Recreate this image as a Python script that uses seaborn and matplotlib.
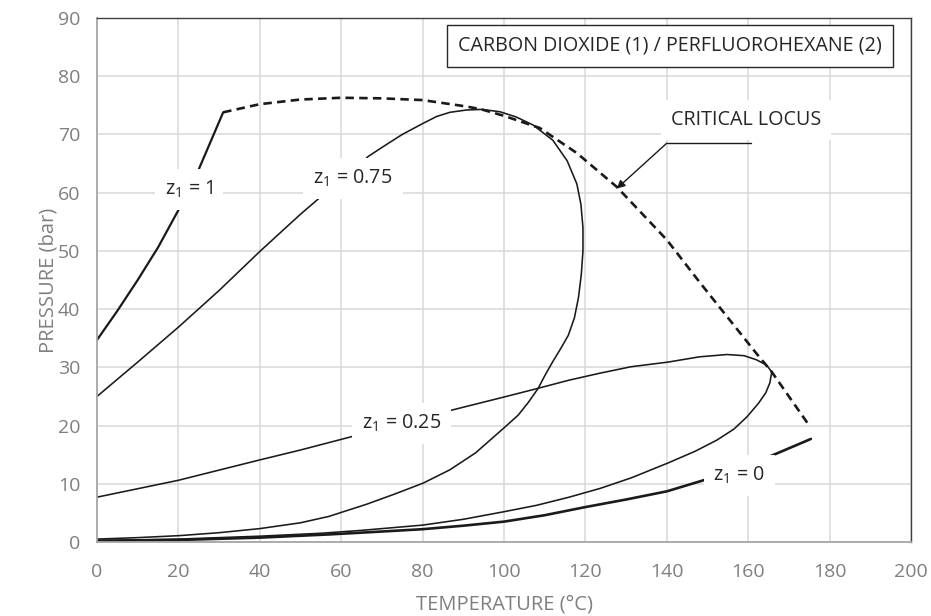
import matplotlib
matplotlib.use("Agg")
import matplotlib.pyplot as plt
from matplotlib.ticker import MultipleLocator
import numpy as np
import pandas as pd
import seaborn as sns

# z1 = 1 (pure CO2 vapour pressure)
co2_T = [0, 5, 10, 15, 20, 25, 31]
co2_P = [34.7, 39.7, 45.0, 50.6, 57.0, 64.0, 73.8]

# z1 = 0 (pure perfluorohexane)
pfh_T = [0, 20, 40, 57, 70, 80, 90, 100, 110, 120, 130, 140, 149, 160, 166, 175.4]
pfh_P = [0.2, 0.35, 0.75, 1.3, 1.8, 2.2, 2.8, 3.5, 4.6, 6.0, 7.3, 8.7, 10.6, 13.2, 14.9, 17.7]

# z1 = 0.25 phase envelope (bubble branch then dew branch)
z25_T = [0, 20, 40, 50, 62.6, 75, 88, 100, 108.4, 116, 123.6, 131.2, 140.3, 148, 154.8,
         159, 162, 164.5, 165.8, 165.3, 164.3, 162.5, 159.7, 156.5, 152.3, 147, 140.4,
         131.2, 123.6, 116, 108, 100, 90, 80, 65, 55, 40, 20, 0]
z25_P = [7.7, 10.6, 14.1, 15.8, 18.1, 20.5, 22.8, 24.9, 26.4, 27.8, 29.0, 30.1, 30.9, 31.8, 32.2,
         32.0, 31.3, 30.4, 29.2, 27.3, 25.6, 23.8, 21.5, 19.4, 17.5, 15.6, 13.6,
         11.0, 9.2, 7.7, 6.3, 5.2, 3.9, 2.9, 2.0, 1.5, 1.0, 0.5, 0.25]

# z1 = 0.75 phase envelope
z75_T = [0, 10, 20, 30, 40, 50, 55, 62.6, 66.6, 70.3, 75, 80.1, 83.5, 86.7, 90.8, 94.5, 99,
         103, 107.2, 112, 115.5, 117.9, 118.9, 119.4, 119.4, 119.0, 118.3, 117.3, 115.8,
         114.0, 112, 110.2, 108.4, 106, 103.5, 100, 93, 86.7, 80.1, 73, 66.3, 57, 50, 40,
         30, 20.4, 10, 0]
z75_P = [25.0, 30.9, 36.9, 43.2, 49.9, 56.3, 59.3, 63.5, 66.2, 67.9, 70.0, 71.9, 73.1, 73.8,
         74.2, 74.3, 73.9, 73.0, 71.6, 69.0, 65.5, 61.5, 58.0, 54.0, 50.0, 46.0, 42.0,
         38.5, 35.5, 33.3, 31.0, 28.8, 26.4, 24.0, 21.8, 19.6, 15.3, 12.4, 10.1, 8.2, 6.5,
         4.4, 3.3, 2.3, 1.6, 1.1, 0.75, 0.5]

# critical locus
crit_T = [31, 40, 50, 60, 70, 80, 90.8, 94.5, 100, 108.8, 117.9, 127.7, 140, 148.2,
          155.5, 162, 165.8, 175.2]
crit_P = [73.8, 75.2, 76.0, 76.3, 76.2, 75.9, 74.8, 74.3, 73.2, 71.1, 66.8, 61.0, 51.9, 44.5,
          38.1, 32.4, 29.2, 19.8]

labels = ['z$_\\mathregular{1}$ = 1', 'z$_\\mathregular{1}$ = 0.75',
          'z$_\\mathregular{1}$ = 0.25', 'z$_\\mathregular{1}$ = 0']
label_T = [22.6, 62.9, 74.9, 157.8]
label_P = [60.6, 62.5, 20.4, 11.5]

TITLE = 'CARBON DIOXIDE (1) / PERFLUOROHEXANE (2)'

sns.set_style('white')
plt.rcParams['font.family'] = ['Open Sans', 'DejaVu Sans']
plt.rcParams['mathtext.fontset'] = 'custom'
plt.rcParams['mathtext.rm'] = 'Open Sans'
plt.rcParams['mathtext.it'] = 'Open Sans:italic'

LINE = '#1a1a1a'
AXGRAY = '#a6a6a6'
TXTGRAY = '#7f7f7f'
FS = 14.2

fig = plt.figure(figsize=(9.31, 6.16), dpi=100)
ax = fig.add_axes([97 / 931, 1 - 542 / 616, 814 / 931, 524 / 616])

def curve(T, P, lw, **kw):
    df = pd.DataFrame({'T': T, 'P': P})
    sns.lineplot(data=df, x='T', y='P', sort=False, estimator=None, ax=ax,
                 color=LINE, lw=lw, **kw)

curve(co2_T, co2_P, 1.6)
curve(pfh_T, pfh_P, 1.9)
curve(z25_T, z25_P, 1.15)
curve(z75_T, z75_P, 1.15)
curve(crit_T, crit_P, 1.9, dashes=(3.2, 2.0))

for txt, t, p in zip(labels, label_T, label_P):
    ax.text(t, p, txt, ha='center', va='center', fontsize=FS, color='#262626',
            bbox=dict(boxstyle='square,pad=0.5', fc='white', ec='none'), zorder=5)

ax.text(140.8, 85.2, TITLE, ha='center', va='center', fontsize=FS, color='#262626',
        bbox=dict(boxstyle='square,pad=0.55', fc='white', ec='#262626', lw=1.0), zorder=5)

ax.text(159.4, 72.5, 'CRITICAL LOCUS', ha='center', va='center', fontsize=FS,
        color='#262626', bbox=dict(boxstyle='square,pad=0.5', fc='white', ec='none'), zorder=4)
ax.plot([140.0, 160.6], [68.5, 68.5], color=LINE, lw=1.0, zorder=5)
ax.annotate('', xy=(127.7, 60.7), xytext=(140.0, 68.5), zorder=5,
            arrowprops=dict(arrowstyle='-|>', color=LINE, lw=1.0,
                            mutation_scale=12, shrinkA=0, shrinkB=0))

ax.set_xlim(0, 200)
ax.set_ylim(0, 90)
ax.xaxis.set_major_locator(MultipleLocator(20))
ax.xaxis.set_minor_locator(MultipleLocator(4))
ax.yaxis.set_major_locator(MultipleLocator(10))
ax.yaxis.set_minor_locator(MultipleLocator(2))
ax.grid(which='major', color='#d9d9d9', lw=1.1)
ax.set_axisbelow(True)

ax.tick_params(axis='both', which='both', direction='out', color=AXGRAY,
               labelcolor=TXTGRAY, labelsize=14, width=1.0)
ax.tick_params(which='major', length=6, pad=6)
ax.tick_params(which='minor', length=5)
ax.tick_params(axis='x', which='major', pad=9)

for side in ['left', 'bottom']:
    ax.spines[side].set_color(AXGRAY)
    ax.spines[side].set_linewidth(1.3)
for side in ['top', 'right']:
    ax.spines[side].set_color('#404040')
    ax.spines[side].set_linewidth(1.0)

ax.set_xlabel('TEMPERATURE (°C)', fontsize=14.5, color=TXTGRAY)
ax.set_ylabel('PRESSURE (bar)', fontsize=14.5, color=TXTGRAY)
ax.xaxis.set_label_coords(0.5, -0.1)
ax.yaxis.set_label_coords(-0.047, 0.5)

fig.savefig('out.png', dpi=100)
